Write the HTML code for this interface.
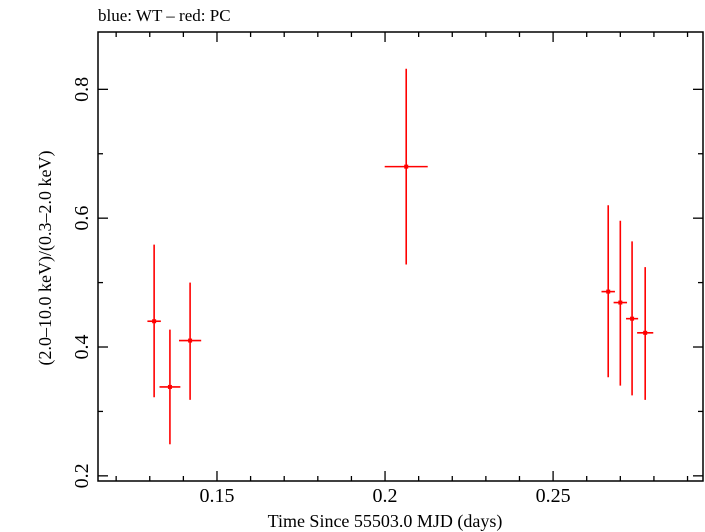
<!DOCTYPE html>
<html><head><meta charset="utf-8"><style>
body{margin:0;background:#fff}
svg{display:block;font-family:"Liberation Serif",serif}
</style></head><body>
<svg id="chart" width="705" height="532">
<text x="98" y="21" font-size="17">blue: WT – red: PC</text>
<rect x="98" y="32" width="605" height="449" fill="none" stroke="#000" stroke-width="1.5"/>
<g id="axes"></g>
<g id="marks"></g>
<text x="385" y="527" font-size="18" text-anchor="middle">Time Since 55503.0 MJD (days)</text>
<text transform="translate(51,258) rotate(-90)" font-size="18" text-anchor="middle">(2.0–10.0 keV)/(0.3–2.0 keV)</text>
</svg>
<script>
const xs=[0.1313,0.136,0.142,0.2063,0.2664,0.27,0.2735,0.2774];
const xerr=[0.002,0.0031,0.0033,0.0064,0.002,0.002,0.0018,0.0024];
const ys=[0.44,0.338,0.41,0.68,0.486,0.469,0.444,0.422];
const yhi=[0.559,0.427,0.50,0.832,0.62,0.596,0.564,0.524];
const ylo=[0.322,0.249,0.318,0.528,0.353,0.340,0.325,0.318];
const xTicks=[0.15,0.2,0.25];
const yTicks=[0.2,0.4,0.6,0.8];
const L=98,R=703,T=32,B=481;
const X0=0.1146,X1=0.2946,Y0=0.192,Y1=0.889;
const sx=v=>L+(v-X0)/(X1-X0)*(R-L);
const sy=v=>B-(v-Y0)/(Y1-Y0)*(B-T);
const NS="http://www.w3.org/2000/svg";
const ax=document.getElementById('axes'),mk=document.getElementById('marks');
function ln(g,x1,y1,x2,y2,c,w){const e=document.createElementNS(NS,'line');e.setAttribute('x1',x1);e.setAttribute('y1',y1);e.setAttribute('x2',x2);e.setAttribute('y2',y2);e.setAttribute('stroke',c);e.setAttribute('stroke-width',w);g.appendChild(e);return e;}
function tx(g,x,y,s,a,rot){const e=document.createElementNS(NS,'text');e.setAttribute('x',x);e.setAttribute('y',y);e.setAttribute('font-size','20');e.setAttribute('text-anchor',a);if(rot)e.setAttribute('transform',`rotate(-90 ${x} ${y})`);e.textContent=s;g.appendChild(e);return e;}
for(let i=12;i<=29;i++){const v=i/100,x=sx(v);const maj=xTicks.some(t=>Math.abs(t-v)<1e-6);const len=maj?10:5;
 const a=ln(ax,x,B,x,B-len,'#000',1.3);
 const b=ln(ax,x,T,x,T+len,'#000',1.3);}
xTicks.forEach(v=>{const t=tx(ax,sx(v),502,String(v),'middle');});
for(let i=2;i<=8;i++){const v=i*0.1,y=sy(v);if(y<T||y>B)continue;const maj=yTicks.some(t=>Math.abs(t-v)<1e-6);const len=maj?10:5;
 const a=ln(ax,L,y,L+len,y,'#000',1.3);
 const b=ln(ax,R,y,R-len,y,'#000',1.3);}
yTicks.forEach(v=>{const t=tx(ax,88,sy(v),String(v),'middle',true);});
xs.forEach((v,i)=>{const g=document.createElementNS(NS,'g');
 
 
 ln(g,sx(v),sy(yhi[i]),sx(v),sy(ylo[i]),'#ff0000',1.6);
 ln(g,sx(v-xerr[i]),sy(ys[i]),sx(v+xerr[i]),sy(ys[i]),'#ff0000',1.6);
 const r=document.createElementNS(NS,'rect');r.setAttribute('x',sx(v)-2);r.setAttribute('y',sy(ys[i])-2);r.setAttribute('width',4);r.setAttribute('height',4);r.setAttribute('fill','#ff0000');g.appendChild(r);
 mk.appendChild(g);});
</script>
</body></html>
